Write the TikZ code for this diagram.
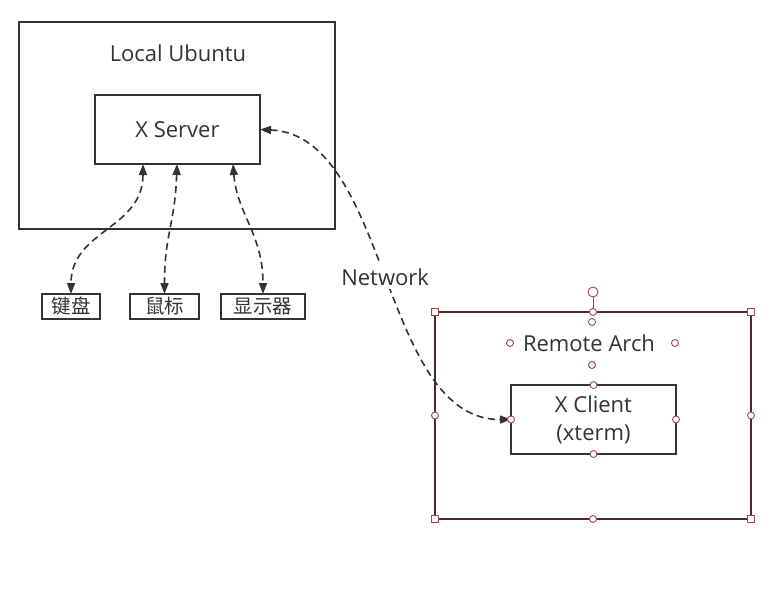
\documentclass[tikz,border=0pt]{standalone}
\usepackage{fontspec}
\setmainfont{Open Sans}
\newfontfamily\cjk{Noto Sans CJK SC}
\usetikzlibrary{arrows.meta}
\definecolor{linec}{HTML}{333333}
\definecolor{selc}{HTML}{4A2C2C}
\definecolor{handlec}{HTML}{A0474B}
\begin{document}
\begin{tikzpicture}[x=1pt,y=-1pt,
  box/.style={draw=linec, line width=1.5pt, inner sep=0pt, outer sep=0pt},
  txt/.style={text=linec, font=\fontsize{22}{28}\selectfont, inner sep=0pt},
  ctxt/.style={text=linec, font=\cjk\fontsize{19.5}{22}\selectfont, inner sep=0pt},
  conn/.style={draw=linec, line width=1.6pt, dash pattern=on 7pt off 4.5pt,
    {Triangle[length=11pt,width=8pt]}-{Triangle[length=11pt,width=8pt]}},
  hc/.style={circle, draw=handlec, fill=white, line width=0.9pt, minimum size=7pt, inner sep=0pt},
  hs/.style={rectangle, draw=handlec, fill=white, line width=0.9pt, minimum size=7pt, inner sep=0pt}]
\useasboundingbox (0,0) rectangle (781,589);
\fill[white] (0,0) rectangle (781,589);
% local machine
\node[box, minimum width=316pt, minimum height=207pt] (local) at (177,125.5) {};
\node[txt] (localt) at (178,53) {Local Ubuntu};
\node[box, minimum width=165pt, minimum height=69pt, txt] (xs) at (177.5,129.5) {X Server};
% devices
\node[box, minimum width=58pt, minimum height=25pt] (kb) at (71,306.5) {};
\node[ctxt] at (kb) {键盘};
\node[box, minimum width=69pt, minimum height=25pt] (ms) at (164.5,306.5) {};
\node[ctxt] at (ms) {鼠标};
\node[box, minimum width=84pt, minimum height=25pt] (dp) at (263,306.5) {};
\node[ctxt] at (dp) {显示器};
% remote machine
\node[draw=selc, line width=1.5pt, inner sep=0pt, outer sep=0pt, minimum width=316pt, minimum height=207pt] (remote) at (593,415.5) {};
\node[txt] (remotet) at (589,343) {Remote Arch};
\node[box, minimum width=165pt, minimum height=69pt, txt, align=center] (xc) at (593.5,419.5) {X Client\\(xterm)};
% connectors
\draw[conn] ([xshift=48pt]xs.south west) .. controls ([xshift=48pt,yshift=-65pt]xs.south west) and ([yshift=64pt]kb.north) .. (kb.north);
\draw[conn] ([xshift=82pt]xs.south west) .. controls ([xshift=80pt,yshift=-60pt]xs.south west) and ([yshift=60pt]ms.north) .. (ms.north);
\draw[conn] ([xshift=138pt]xs.south west) .. controls ([xshift=142pt,yshift=-50pt]xs.south west) and ([yshift=60pt]dp.north) .. (dp.north);
\draw[conn] (xs.east) .. controls (390,135) and (380,420) .. (xc.west)
  node[pos=0.5, fill=white, txt, inner sep=4pt] (net) {Network};
% selection handles
\draw[handlec, line width=0.9pt] (remote.north) -- (593,297);
\node[hc, minimum size=10pt] (rot) at (593,292) {};
\foreach \a in {north west,north east,south west,south east}
  \node[hs] at (remote.\a) {};
\foreach \a in {north,south,east,west}
  \node[hc] at (remote.\a) {};
\foreach \a in {north,south,east,west}
  \node[hc] at (xc.\a) {};
\node[hc] at (592,322) {};
\node[hc] at (592,365) {};
\node[hc] at (510,343) {};
\node[hc] at (675,343) {};
\end{tikzpicture}
\end{document}
